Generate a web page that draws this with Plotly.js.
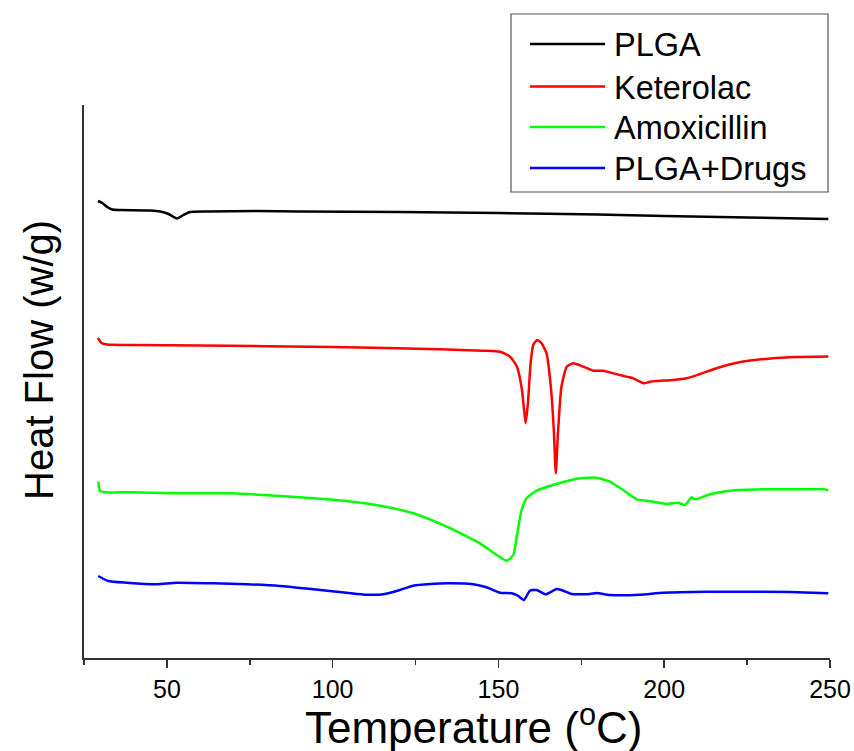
<!DOCTYPE html>
<html>
<head>
<meta charset="utf-8">
<script src="https://cdn.plot.ly/plotly-3.0.1.min.js"></script>
<style>html,body{margin:0;padding:0;background:#fff;}#chart{width:854px;height:751px;}</style>
</head>
<body>
<div id="chart"></div>
<script>
// Temperature (°C) and heat flow (arbitrary offset units)
const plgaT = [29.2, 30.5, 32, 33.5, 36, 45, 48, 50.5, 53, 55, 57, 62, 77, 90, 120, 150, 180, 200, 225, 249.5];
const plgaHF = [457, 455, 451, 448.5, 448, 447.5, 446.5, 444, 439.5, 443, 446, 446.5, 447, 446.5, 446, 445, 443.5, 442, 440.5, 439];

const ketT = [29.2, 30.3, 32, 40, 60, 100, 132.4, 145.3, 150.5, 153.5, 155.6, 157.1, 158.2, 158.9, 159.7, 160.5, 161.7, 163.0, 164.5, 165.8, 166.7, 167.3, 168.0, 169.0, 170.6, 172.6, 175.6, 178.6, 181.6, 186.6, 190.7, 192.7, 193.9, 195.7, 197.7, 202.7, 206.7, 210.8, 216, 223, 232, 240, 249.5];
const ketHF = [320, 315, 313.5, 313, 312.5, 311, 308.7, 307.3, 306.3, 301.3, 291.3, 268, 234.7, 255, 295, 313, 318, 314.7, 304.7, 271.3, 228, 184.7, 228, 271.3, 291.3, 294.7, 291.3, 287.3, 287.3, 283, 279.7, 276.3, 274.7, 276.3, 277, 278, 279.7, 284, 290, 296, 299.5, 301, 301.5];

const amoxT = [29.3, 29.8, 31.3, 38.9, 51.9, 70, 79, 94.2, 104.2, 114.3, 124.3, 134.4, 144.4, 149.5, 152.5, 154.5, 155.5, 157.0, 158.5, 161.5, 167.5, 174.6, 179.6, 183.6, 187.6, 191.7, 194.7, 200.7, 204.2, 206.2, 208.3, 209.3, 213.8, 219.8, 229.9, 243.0, 248.0, 249.5];
const amoxHF = [176.3, 167.3, 165.7, 165.7, 164.7, 164.7, 163, 159.7, 157, 152.3, 144.7, 131.3, 114.7, 103, 97.3, 103, 121.3, 148, 159.7, 167.3, 174, 179.7, 180.3, 176.3, 168, 158.7, 157.3, 154, 155.3, 153, 160.7, 158.7, 163.7, 167.3, 168.7, 168.7, 169, 167.7];

const mixT = [29.3, 32.3, 37.9, 46.9, 52.9, 64, 74.1, 84.1, 94.2, 104.2, 110.2, 115.3, 120.3, 124.3, 129.4, 135.4, 142.4, 146.4, 150.5, 154, 156, 157.7, 159.5, 161.5, 164.3, 167.5, 169.0, 172.1, 177.6, 179.6, 183.6, 192.7, 199.7, 212.8, 238.0, 247.1, 249.5];
const mixHF = [82, 77, 75.3, 73.7, 75.3, 74.7, 73.7, 72, 68.7, 65.3, 63.3, 63.7, 68, 72.3, 74, 74.7, 73.7, 70.7, 65.3, 64.7, 62, 58, 67.3, 68, 63.7, 69, 68, 64, 64, 65, 63, 63.3, 65.3, 66.3, 66, 65, 64.7];

const seriesNames = ['PLGA', 'Keterolac', 'Amoxicillin', 'PLGA+Drugs'];
const seriesColors = ['#000000', '#ff0000', '#00ff00', '#0000ff'];
const xTicks = [50, 100, 150, 200, 250];

const FONT = 'Liberation Sans, Arial, sans-serif';
const xs = [plgaT, ketT, amoxT, mixT];
const ys = [plgaHF, ketHF, amoxHF, mixHF];

// plot area geometry in page pixels (for converting the legend/titles to paper coords)
const W = 854, H = 751, ML = 84, MR = 24, MT = 105, MB = 93;
const PW = W - ML - MR, PH = H - MT - MB;
const px = v => (v - ML) / PW;
const py = v => (H - MB - v) / PH;

const traces = seriesNames.map((n, i) => ({
  x: xs[i], y: ys[i], name: n, type: 'scatter', mode: 'lines',
  line: {color: seriesColors[i], width: 2.5, shape: 'spline', smoothing: 0.5},
  showlegend: false
}));

// hand-built legend box
const shapes = [{
  type: 'rect', xref: 'paper', yref: 'paper',
  x0: px(511), x1: px(828), y0: py(192), y1: py(14),
  line: {color: '#555', width: 1.2}, fillcolor: '#fff', layer: 'above'
}];
const annotations = [];
const rowY = [44, 86.5, 127, 168];
seriesNames.forEach((n, i) => {
  shapes.push({
    type: 'line', xref: 'paper', yref: 'paper',
    x0: px(530), x1: px(605), y0: py(rowY[i]), y1: py(rowY[i]),
    line: {color: seriesColors[i], width: 2.5}, layer: 'above'
  });
  annotations.push({
    xref: 'paper', yref: 'paper', x: px(612), y: py(rowY[i] + 1),
    xanchor: 'left', yanchor: 'middle', showarrow: false,
    text: n, font: {family: FONT, size: 32.5, color: '#000'}
  });
});
// axis titles
annotations.push({
  xref: 'paper', yref: 'paper', x: px(473), y: py(724),
  xanchor: 'center', yanchor: 'middle', showarrow: false,
  text: 'Temperature (<sup>o</sup>C)', font: {family: FONT, size: 44, color: '#000'}
});
annotations.push({
  xref: 'paper', yref: 'paper', x: px(39), y: py(360),
  xanchor: 'center', yanchor: 'middle', showarrow: false, textangle: -90,
  text: 'Heat Flow (w/g)', font: {family: FONT, size: 40, color: '#000'}
});

const layout = {
  width: W, height: H,
  margin: {l: ML, r: MR, t: MT, b: MB},
  paper_bgcolor: '#fff', plot_bgcolor: '#fff',
  font: {family: FONT, color: '#000'},
  showlegend: false,
  shapes: shapes,
  annotations: annotations,
  xaxis: {
    range: [25, 250], tickvals: xTicks, ticktext: xTicks.map(String),
    ticks: 'outside', ticklen: 8, tickwidth: 1.5, tickcolor: '#333',
    minor: {dtick: 25, tick0: 0, ticks: 'outside', ticklen: 5, tickwidth: 1.5, tickcolor: '#333', showgrid: false},
    showline: true, linecolor: '#333', linewidth: 2,
    showgrid: false, zeroline: false,
    tickfont: {family: FONT, size: 25, color: '#000'}
  },
  yaxis: {
    range: [0, 553], showticklabels: false, ticks: '',
    showline: true, linecolor: '#333', linewidth: 2,
    showgrid: false, zeroline: false
  }
};

Plotly.newPlot('chart', traces, layout, {displayModeBar: false, staticPlot: true});
</script>
</body>
</html>
